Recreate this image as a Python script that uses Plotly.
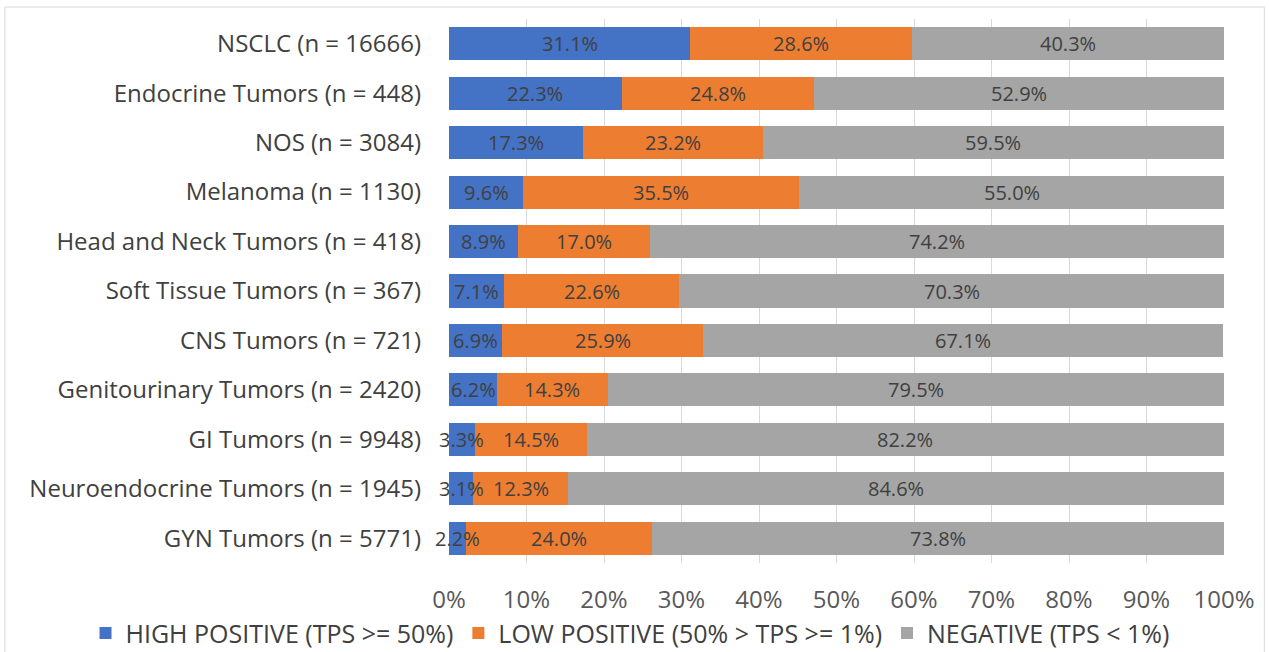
import plotly.graph_objects as go

# Tumor types (top to bottom) and PD-L1 TPS category shares, in percent
categories = [
    "NSCLC (n = 16666)",
    "Endocrine Tumors (n = 448)",
    "NOS (n = 3084)",
    "Melanoma (n = 1130)",
    "Head and Neck Tumors (n = 418)",
    "Soft Tissue Tumors (n = 367)",
    "CNS Tumors (n = 721)",
    "Genitourinary Tumors (n = 2420)",
    "GI Tumors (n = 9948)",
    "Neuroendocrine Tumors (n = 1945)",
    "GYN Tumors (n = 5771)",
]
high_positive = [31.1, 22.3, 17.3, 9.6, 8.9, 7.1, 6.9, 6.2, 3.3, 3.1, 2.2]
low_positive = [28.6, 24.8, 23.2, 35.5, 17.0, 22.6, 25.9, 14.3, 14.5, 12.3, 24.0]
negative = [40.3, 52.9, 59.5, 55.0, 74.2, 70.3, 67.1, 79.5, 82.2, 84.6, 73.8]

x_ticks = list(range(0, 101, 10))

series = [
    ("HIGH POSITIVE (TPS >= 50%)", high_positive, "#4472C4"),
    ("LOW POSITIVE (50% > TPS >= 1%)", low_positive, "#ED7D31"),
    ("NEGATIVE (TPS < 1%)", negative, "#A5A5A5"),
]

FONT = "Open Sans, Lato, sans-serif"

fig = go.Figure()
for name, vals, color in series:
    fig.add_trace(go.Bar(
        y=categories,
        x=vals,
        name=name,
        orientation="h",
        marker=dict(color=color, line=dict(width=0)),
        hovertemplate="%{y}: %{x:.1f}%<extra>" + name + "</extra>",
    ))

# value labels centred on each segment
annotations = []
starts = [0.0] * len(categories)
for name, vals, color in series:
    for i, (cat, v) in enumerate(zip(categories, vals)):
        mid = min(starts[i] + v / 2, 100)
        annotations.append(dict(
            x=mid, y=cat, xref="x", yref="y",
            text=f"{v:.1f}%", showarrow=False,
            xanchor="center", yanchor="middle",
            font=dict(family=FONT, size=20, color="#404040"),
        ))
        starts[i] += v

fig.update_layout(
    barmode="stack",
    bargap=0.33,
    width=1269,
    height=652,
    margin=dict(l=449, r=45, t=19, b=89, autoexpand=False),
    paper_bgcolor="white",
    plot_bgcolor="white",
    font=dict(family=FONT, color="#404040"),
    annotations=annotations,
    xaxis=dict(
        range=[0, 100],
        tickvals=x_ticks,
        ticktext=[f"{t}%" for t in x_ticks],
        showgrid=True,
        gridcolor="#D9D9D9",
        gridwidth=1,
        zeroline=False,
        showline=False,
        ticks="",
        tickfont=dict(family=FONT, size=24, color="#595959"),
        ticklabelstandoff=20,
        fixedrange=True,
    ),
    yaxis=dict(
        categoryorder="array",
        categoryarray=categories[::-1],
        showgrid=False,
        zeroline=False,
        showline=False,
        ticks="",
        tickfont=dict(family=FONT, size=24, color="#404040"),
        ticklabelstandoff=27,
        fixedrange=True,
    ),
    legend=dict(
        orientation="h",
        x=-0.469,
        xanchor="left",
        y=-0.129,
        yanchor="middle",
        traceorder="normal",
        font=dict(family=FONT, size=25, color="#404040"),
        itemwidth=30,
        bgcolor="rgba(0,0,0,0)",
    ),
    showlegend=True,
)

# light frame around the chart area
fig.add_shape(
    type="rect", xref="paper", yref="paper",
    x0=-0.573, x1=1.052, y0=-0.3, y1=1.022,
    line=dict(color="#D9D9D9", width=1),
    fillcolor="rgba(0,0,0,0)",
    layer="below",
)

fig.write_html("out.html")
